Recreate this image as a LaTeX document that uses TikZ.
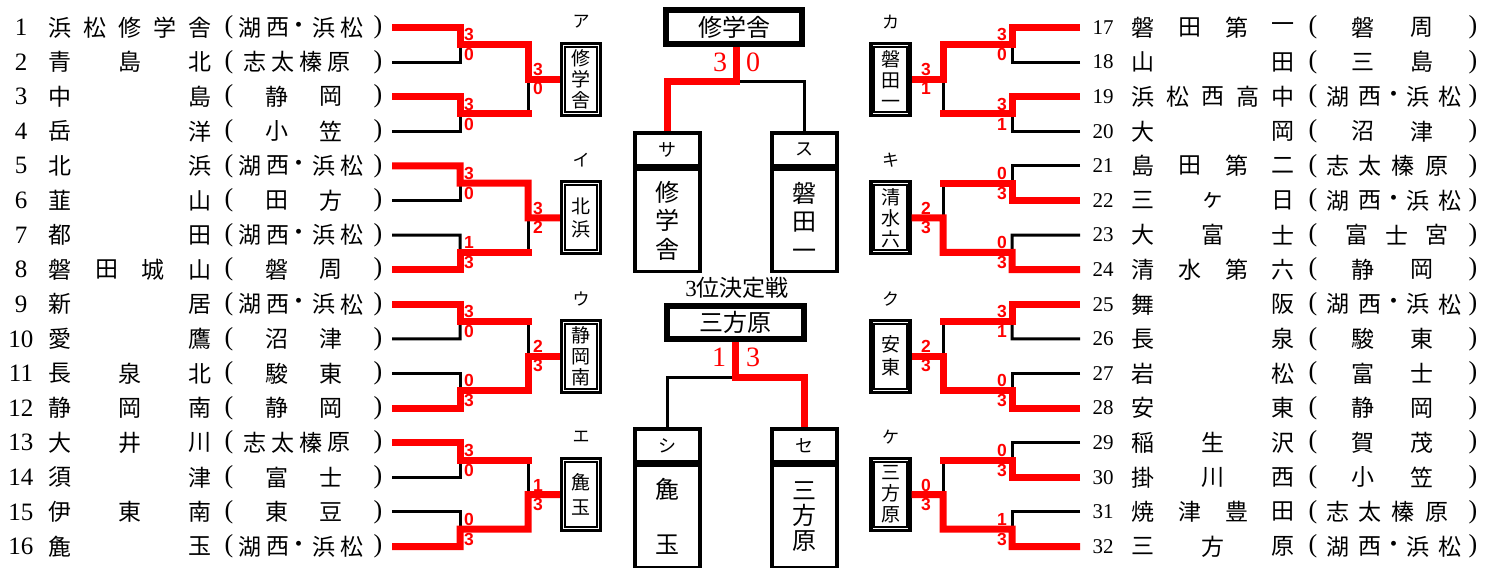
\documentclass[tikz,border=0pt]{standalone}
\usepackage{fontspec}
\setmainfont{Liberation Serif}
\newfontfamily\jp{Noto Sans CJK JP}
\newfontfamily\scf{Liberation Sans}
\usetikzlibrary{calc}
\tikzset{
  win/.style={draw=red, line width=7pt, line join=miter},
  lose/.style={draw=black, line width=3pt},
  ch/.style={font=\jp\fontsize{23}{23}\selectfont, inner sep=0pt},
  numL/.style={font=\fontsize{25}{25}\selectfont, inner sep=0pt},
  numR/.style={font=\fontsize{21}{21}\selectfont, inner sep=0pt},
  par/.style={font=\fontsize{26}{26}\selectfont, inner sep=0pt},
  sc/.style={font=\scf\bfseries\fontsize{17.5}{17.5}\selectfont, text=red, inner sep=0pt},
  bsc/.style={font=\fontsize{28}{28}\selectfont, text=red, inner sep=0pt},
  lab/.style={font=\jp\fontsize{17}{17}\selectfont, inner sep=0pt},
  sbox/.style={draw, line width=3.3pt, minimum width=39pt, minimum height=72pt, inner sep=0pt, align=center, font=\jp\fontsize{19}{21}\selectfont},
  cbox/.style={draw, line width=3.5pt, inner sep=0pt, align=center, font=\jp\fontsize{24}{28.5}\selectfont},
  hbox/.style={draw, line width=3.5pt, inner sep=0pt, font=\jp\fontsize{18}{18}\selectfont, minimum width=65pt, minimum height=33pt},
  innerline/.style={draw, line width=2pt},
}
\def\LKOSAI{湖/250,西/278,・/299,浜/324,松/352}
\def\LSHIDA{志/255,太/283,榛/311,原/339}
\def\RKOSAI{湖/1338,西/1370,・/1394,浜/1418,松/1450}
\def\RSHIDA{志/1338,太/1370,榛/1403,原/1437}
\newcommand\teamL[4]{%
  \node[numL] (n#1) at (21,#2) {#1};
  \foreach \cc/\xx [count=\k] in {#3} {\node[ch] (a#1-\k) at (\xx,#2) {\cc};}
  \node[par] (po#1) at (229,#2) {(};
  \foreach \cc/\xx [count=\k] in #4 {\node[ch] (r#1-\k) at (\xx,#2) {\cc};}
  \node[par] (pc#1) at (378,#2) {)};
  \coordinate (t#1) at (392,#2);
}
\newcommand\teamR[4]{%
  \node[numR] (n#1) at (1103,#2) {#1};
  \foreach \cc/\xx [count=\k] in {#3} {\node[ch] (a#1-\k) at (\xx,#2) {\cc};}
  \node[par] (po#1) at (1313,#2) {(};
  \foreach \cc/\xx [count=\k] in #4 {\node[ch] (r#1-\k) at (\xx,#2) {\cc};}
  \node[par] (pc#1) at (1473,#2) {)};
  \coordinate (t#1) at (1080,#2);
}
\newcommand\sidebox[5]{%
  \node[sbox] (#1) at (#2,#3) {#5};
  \draw[innerline] ($(#1.north west)+(5,5)$) rectangle ($(#1.south east)+(-5,-5)$);
  \node[lab] (#1-lab) at ($(#1.north)+(0,-20)$) {#4};
}
\newcommand\bracketsetup[7]{%
  \pgfmathtruncatemacro\bkA{#1}\pgfmathtruncatemacro\bkB{#1+1}%
  \pgfmathtruncatemacro\bkC{#1+2}\pgfmathtruncatemacro\bkD{#1+3}%
  \pgfmathsetmacro\bya{#2}\pgfmathsetmacro\byb{#2+34.6}%
  \pgfmathsetmacro\byc{#2+69.2}\pgfmathsetmacro\byd{#2+103.8}%
  \pgfmathsetmacro\bma{#2+17.3}\pgfmathsetmacro\bmb{#2+86.5}%
  \pgfmathsetmacro\bmm{#2+51.9}%
  \ifnum#3>#4 \edef\pw{\bkA}\edef\pl{\bkB}\let\ypw\bya\let\ypl\byb
  \else \edef\pw{\bkB}\edef\pl{\bkA}\let\ypw\byb\let\ypl\bya\fi
  \ifnum#5>#6 \edef\qw{\bkC}\edef\ql{\bkD}\let\yqw\byc\let\yql\byd
  \else \edef\qw{\bkD}\edef\ql{\bkC}\let\yqw\byd\let\yql\byc\fi
}
\newcommand\blockL[9]{%
  \bracketsetup{#1}{#2}{#3}{#4}{#5}{#6}{#7}%
  \draw[lose] (t\pl) -- (460,\ypl) -- (460,\bma);
  \draw[lose] (t\ql) -- (460,\yql) -- (460,\bmb);
  \ifnum#7>#8
    \draw[lose] (528,\bmb) -- (528,\bmm);
    \draw[win] (t\qw) -- (460,\yqw) -- (460,\bmb) -- (531.5,\bmb);
    \draw[win] (t\pw) -- (460,\ypw) -- (460,\bma) -- (528,\bma) -- (528,\bmm) -- (#9.west);
  \else
    \draw[lose] (528,\bma) -- (528,\bmm);
    \draw[win] (t\pw) -- (460,\ypw) -- (460,\bma) -- (531.5,\bma);
    \draw[win] (t\qw) -- (460,\yqw) -- (460,\bmb) -- (528,\bmb) -- (528,\bmm) -- (#9.west);
  \fi
  \node[sc] (s\bkA-a) at (469,\bma-10) {#3};
  \node[sc] (s\bkA-b) at (469,\bma+10) {#4};
  \node[sc] (s\bkA-c) at (469,\bmb-10) {#5};
  \node[sc] (s\bkA-d) at (469,\bmb+10) {#6};
  \node[sc] (s\bkA-e) at (538,\bmm-9.5) {#7};
  \node[sc] (s\bkA-f) at (538,\bmm+9.5) {#8};
}
\newcommand\blockR[9]{%
  \bracketsetup{#1}{#2}{#3}{#4}{#5}{#6}{#7}%
  \draw[lose] (t\pl) -- (1012,\ypl) -- (1012,\bma);
  \draw[lose] (t\ql) -- (1012,\yql) -- (1012,\bmb);
  \ifnum#7>#8
    \draw[lose] (943,\bmb) -- (943,\bmm);
    \draw[win] (t\qw) -- (1012,\yqw) -- (1012,\bmb) -- (939.5,\bmb);
    \draw[win] (t\pw) -- (1012,\ypw) -- (1012,\bma) -- (943,\bma) -- (943,\bmm) -- (#9.east);
  \else
    \draw[lose] (943,\bma) -- (943,\bmm);
    \draw[win] (t\pw) -- (1012,\ypw) -- (1012,\bma) -- (939.5,\bma);
    \draw[win] (t\qw) -- (1012,\yqw) -- (1012,\bmb) -- (943,\bmb) -- (943,\bmm) -- (#9.east);
  \fi
  \node[sc] (s\bkA-a) at (1002,\bma-10) {#3};
  \node[sc] (s\bkA-b) at (1002,\bma+10) {#4};
  \node[sc] (s\bkA-c) at (1002,\bmb-10) {#5};
  \node[sc] (s\bkA-d) at (1002,\bmb+10) {#6};
  \node[sc] (s\bkA-e) at (926,\bmm-9.5) {#7};
  \node[sc] (s\bkA-f) at (926,\bmm+9.5) {#8};
}
\begin{document}
\begin{tikzpicture}[x=1pt,y=-1pt]
\useasboundingbox (0,0) rectangle (1495,567);
% left teams
\teamL{1}{27.5}{浜/60,松/95,修/130,学/165,舎/200}{\LKOSAI}
\teamL{2}{62.1}{青/60,島/130,北/200}{\LSHIDA}
\teamL{3}{96.7}{中/60,島/200}{{静/277,岡/331}}
\teamL{4}{131.3}{岳/60,洋/200}{{小/277,笠/331}}
\teamL{5}{165.9}{北/60,浜/200}{\LKOSAI}
\teamL{6}{200.5}{韮/60,山/200}{{田/277,方/331}}
\teamL{7}{235.1}{都/60,田/200}{\LKOSAI}
\teamL{8}{269.7}{磐/60,田/106.7,城/153.3,山/200}{{磐/277,周/331}}
\teamL{9}{304.3}{新/60,居/200}{\LKOSAI}
\teamL{10}{338.9}{愛/60,鷹/200}{{沼/277,津/331}}
\teamL{11}{373.5}{長/60,泉/130,北/200}{{駿/277,東/331}}
\teamL{12}{408.1}{静/60,岡/130,南/200}{{静/277,岡/331}}
\teamL{13}{442.7}{大/60,井/130,川/200}{\LSHIDA}
\teamL{14}{477.3}{須/60,津/200}{{富/277,士/331}}
\teamL{15}{511.9}{伊/60,東/130,南/200}{{東/277,豆/331}}
\teamL{16}{546.5}{麁/60,玉/200}{\LKOSAI}
% right teams
\teamR{17}{27.5}{磐/1143,田/1190,第/1237,一/1283}{{磐/1363,周/1422}}
\teamR{18}{62.1}{山/1143,田/1283}{{三/1363,島/1422}}
\teamR{19}{96.7}{浜/1143,松/1178,西/1213,高/1248,中/1283}{\RKOSAI}
\teamR{20}{131.3}{大/1143,岡/1283}{{沼/1363,津/1422}}
\teamR{21}{165.9}{島/1143,田/1190,第/1237,二/1283}{\RSHIDA}
\teamR{22}{200.5}{三/1143,ヶ/1213,日/1283}{\RKOSAI}
\teamR{23}{235.1}{大/1143,富/1213,士/1283}{{富/1357,士/1397,宮/1437}}
\teamR{24}{269.7}{清/1143,水/1190,第/1237,六/1283}{{静/1363,岡/1422}}
\teamR{25}{304.3}{舞/1143,阪/1283}{\RKOSAI}
\teamR{26}{338.9}{長/1143,泉/1283}{{駿/1363,東/1422}}
\teamR{27}{373.5}{岩/1143,松/1283}{{富/1363,士/1422}}
\teamR{28}{408.1}{安/1143,東/1283}{{静/1363,岡/1422}}
\teamR{29}{442.7}{稲/1143,生/1213,沢/1283}{{賀/1363,茂/1422}}
\teamR{30}{477.3}{掛/1143,川/1213,西/1283}{{小/1363,笠/1422}}
\teamR{31}{511.9}{焼/1143,津/1190,豊/1237,田/1283}{\RSHIDA}
\teamR{32}{546.5}{三/1143,方/1213,原/1283}{\RKOSAI}
% side boxes
\sidebox{bA}{581}{79.4}{ア}{修\\学\\舎}
\sidebox{bI}{581}{217.8}{イ}{北\\[2pt]浜}
\sidebox{bU}{581}{356.2}{ウ}{静\\岡\\南}
\sidebox{bE}{581}{494.6}{エ}{麁\\[4pt]玉}
\sidebox{bKa}{890.5}{79.4}{カ}{磐\\田\\一}
\sidebox{bKi}{890.5}{217.8}{キ}{清\\水\\六}
\sidebox{bKu}{890.5}{356.2}{ク}{安\\[2pt]東}
\sidebox{bKe}{890.5}{494.6}{ケ}{三\\方\\原}
% brackets
\blockL{1}{27.5}{3}{0}{3}{0}{3}{0}{bA}
\blockL{5}{165.9}{3}{0}{1}{3}{3}{2}{bI}
\blockL{9}{304.3}{3}{0}{0}{3}{2}{3}{bU}
\blockL{13}{442.7}{3}{0}{0}{3}{1}{3}{bE}
\blockR{17}{27.5}{3}{0}{3}{1}{3}{1}{bKa}
\blockR{21}{165.9}{0}{3}{0}{3}{2}{3}{bKi}
\blockR{25}{304.3}{3}{1}{0}{3}{2}{3}{bKu}
\blockR{29}{442.7}{0}{3}{1}{3}{0}{3}{bKe}
% final
\node[cbox, minimum width=138pt, minimum height=36pt] (fin) at (734,27) {修学舎};
\draw[innerline] ($(fin.north west)+(5,5)$) rectangle ($(fin.south east)+(-5,-5)$);
\node[hbox] (saH) at (667.5,149.5) {サ};
\node[cbox, minimum width=65pt, minimum height=102pt, anchor=north] (saB) at (saH.south) {修\\学\\舎};
\node[hbox] (suH) at (804.5,149.5) {ス};
\node[cbox, minimum width=65pt, minimum height=102pt, anchor=north] (suB) at (suH.south) {磐\\田\\一};
\coordinate (fj) at ($(fin.south)+(2,35)$);
\draw[lose] (fj) -| (suH.north);
\draw[win] ($(fin.south)+(2,0)$) -- (fj) -| (saH.north);
\node[bsc] (fs1) at (720,62) {3};
\node[bsc] (fs2) at (753,62) {0};
% third place
\node[font=\jp\fontsize{23}{23}\selectfont, inner sep=0pt] (ttl) at (737,288) {{\rmfamily 3}位決定戦};
\node[cbox, minimum width=139pt, minimum height=35pt] (thr) at (735.5,322.5) {三方原};
\draw[innerline] ($(thr.north west)+(5,5)$) rectangle ($(thr.south east)+(-5,-5)$);
\node[hbox] (shH) at (667.5,445.5) {シ};
\node[cbox, minimum width=65pt, minimum height=102pt, anchor=north] (shB) at (shH.south) {麁\\[26pt]玉};
\node[hbox] (seH) at (804.5,445.5) {セ};
\node[cbox, minimum width=65pt, minimum height=102pt, anchor=north, font=\jp\fontsize{24}{25}\selectfont] (seB) at (seH.south) {三\\方\\原};
\coordinate (tj) at ($(thr.south)+(0,36)$);
\draw[lose] (tj) -| (shH.north);
\draw[win] (thr.south) -- (tj) -| (seH.north);
\node[bsc] (ts1) at (719,357) {1};
\node[bsc] (ts2) at (753,357) {3};
\end{tikzpicture}
\end{document}
